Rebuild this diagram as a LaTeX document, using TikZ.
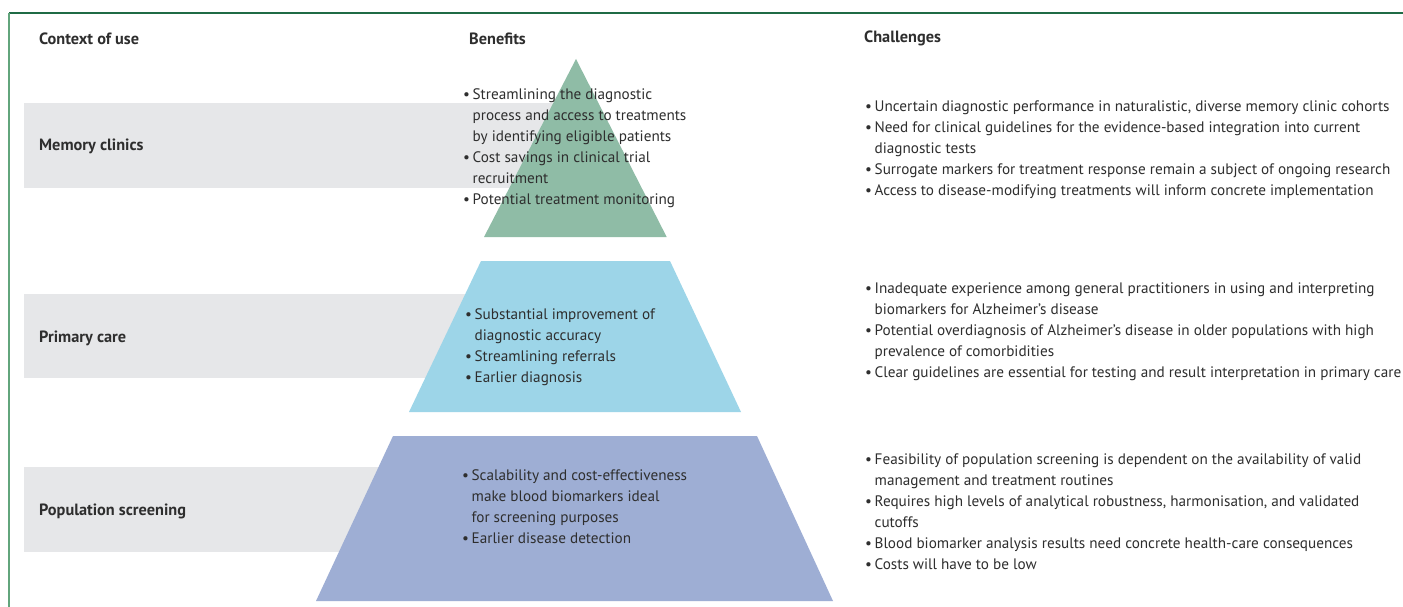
\documentclass[tikz,border=0pt]{standalone}
\usepackage{fontspec}
\setmainfont{PT Sans}
\definecolor{framedark}{HTML}{1F6B45}
\definecolor{framelight}{HTML}{62A57C}
\definecolor{bandgray}{HTML}{E6E7E9}
\definecolor{pgreen}{HTML}{8FBCA6}
\definecolor{pblue}{HTML}{9DD5E8}
\definecolor{ppurple}{HTML}{9EAED4}
\definecolor{txt}{HTML}{2E2E2E}
\newcommand{\bl}{•\hspace{2.6pt}}
\newcommand{\ind}{\phantom{•}\hspace{2.6pt}}
\tikzset{
  header/.style={anchor=west, inner sep=0pt, font=\fontsize{16.3}{19}\selectfont\bfseries, text=txt},
  ctxlabel/.style={anchor=west, inner sep=0pt, font=\fontsize{16.3}{19}\selectfont\bfseries, text=txt},
  bullets/.style={anchor=north west, inner sep=0pt, align=left, font=\fontsize{15.2}{21}\selectfont, text=txt},
  band/.style={fill=bandgray},
}
\begin{document}
\begin{tikzpicture}[x=1pt,y=-1pt]
\useasboundingbox (0,0) rectangle (1403,607);
\fill[white] (0,0) rectangle (1403,607);
% frame
\draw[framedark, line width=1.5pt] (9,13) -- (1403,13);
\draw[framelight, line width=1.5pt] (9,13) -- (9,607);
% headers
\node[header] (hctx) at (39,38.5) {Context of use};
\node[header] (hben) at (469,38.5) {Benefits};
\node[header] (hcha) at (864,38.5) {Challenges};
% grey bands
\fill[band] (24,103) rectangle (576,188);
\fill[band] (24,294) rectangle (576,378);
\fill[band] (24,467) rectangle (576,552);
% pyramid
\fill[pgreen] (576,59) -- (666.7,237) -- (484,237) -- cycle;
\fill[pblue] (481,261) -- (670,261) -- (741,412) -- (409,412) -- cycle;
\fill[ppurple] (393,436) -- (757,436) -- (833,601) -- (316,601) -- cycle;
% context labels
\node[ctxlabel] (lmem) at (39,146) {Memory clinics};
\node[ctxlabel] (lpri) at (39,338) {Primary care};
\node[ctxlabel] (lpop) at (39,511) {Population screening};
% benefits
\node[bullets] (bmem) at (463,88) {\bl Streamlining the diagnostic\\
\ind process and access to treatments\\
\ind by identifying eligible patients\\
\bl Cost savings in clinical trial\\
\ind recruitment\\
\bl Potential treatment monitoring};
\node[bullets] (bpri) at (465,308) {\bl Substantial improvement of\\
\ind diagnostic accuracy\\
\bl Streamlining referrals\\
\bl Earlier diagnosis};
\node[bullets] (bpop) at (462,469) {\bl Scalability and cost-effectiveness\\
\ind make blood biomarkers ideal\\
\ind for screening purposes\\
\bl Earlier disease detection};
% challenges
\node[bullets] (cmem) at (865,101) {\bl Uncertain diagnostic performance in naturalistic, diverse memory clinic cohorts\\
\bl Need for clinical guidelines for the evidence-based integration into current\\
\ind diagnostic tests\\
\bl Surrogate markers for treatment response remain a subject of ongoing research\\
\bl Access to disease-modifying treatments will inform concrete implementation};
\node[bullets] (cpri) at (865,283) {\bl Inadequate experience among general practitioners in using and interpreting\\
\ind biomarkers for Alzheimer’s disease\\
\bl Potential overdiagnosis of Alzheimer’s disease in older populations with high\\
\ind prevalence of comorbidities\\
\bl Clear guidelines are essential for testing and result interpretation in primary care};
\node[bullets] (cpop) at (865,454) {\bl Feasibility of population screening is dependent on the availability of valid\\
\ind management and treatment routines\\
\bl Requires high levels of analytical robustness, harmonisation, and validated\\
\ind cutoffs\\
\bl Blood biomarker analysis results need concrete health-care consequences\\
\bl Costs will have to be low};
\end{tikzpicture}
\end{document}
